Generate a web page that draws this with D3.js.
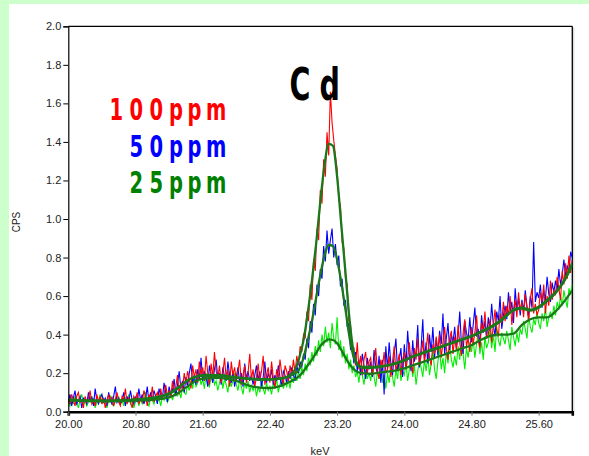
<!DOCTYPE html>
<html>
<head>
<meta charset="utf-8">
<script src="https://cdn.jsdelivr.net/npm/d3@7/dist/d3.min.js"></script>
<style>
body { margin: 0; background: #ccffcc; }
svg { display: block; }
.axis text { font-family: "Liberation Sans", Arial, sans-serif; font-size: 11px; fill: #222; }
.tag { font-family: "DejaVu Sans Condensed", "DejaVu Sans", sans-serif; font-weight: bold; }
</style>
</head>
<body>
<div id="chart"></div>
<script>
// spectra: one value per channel, starting at 20.00 keV, 0.02 keV per channel
var keVStart = 20.0, keVStep = 0.02;

var cps100 = [
  0.07,0.04,0.09,0.06,0.03,0.08,0.10,0.05,0.06,0.02,
  0.08,0.05,0.07,0.11,0.04,0.06,0.03,0.09,0.05,0.08,
  0.04,0.07,0.02,0.06,0.09,0.05,0.08,0.03,0.06,0.10,
  0.05,0.03,0.08,0.06,0.12,0.04,0.07,0.05,0.02,0.08,
  0.06,0.10,0.04,0.07,0.05,0.11,0.08,0.03,0.09,0.06,
  0.13,0.05,0.08,0.10,0.06,0.12,0.07,0.09,0.14,0.08,
  0.11,0.07,0.16,0.10,0.13,0.19,0.09,0.15,0.12,0.20,
  0.14,0.21,0.17,0.12,0.24,0.18,0.22,0.15,0.26,0.19,
  0.23,0.16,0.29,0.20,0.14,0.25,0.18,0.31,0.21,0.17,
  0.24,0.15,0.20,0.28,0.17,0.22,0.13,0.26,0.19,0.23,
  0.16,0.21,0.27,0.14,0.19,0.24,0.15,0.20,0.30,0.17,
  0.22,0.13,0.18,0.25,0.16,0.21,0.29,0.14,0.19,0.23,
  0.15,0.26,0.18,0.12,0.22,0.17,0.27,0.20,0.14,0.24,
  0.21,0.16,0.24,0.19,0.27,0.20,0.29,0.24,0.34,0.31,
  0.40,0.38,0.52,0.47,0.66,0.58,0.79,0.73,0.95,0.89,
  1.15,1.08,1.31,1.22,1.45,1.33,1.66,1.50,1.41,1.33,
  1.26,1.10,1.07,0.88,0.85,0.69,0.66,0.47,0.45,0.32,
  0.33,0.24,0.36,0.22,0.29,0.19,0.27,0.31,0.20,0.26,
  0.28,0.19,0.25,0.33,0.21,0.17,0.27,0.23,0.31,0.20,
  0.22,0.29,0.18,0.26,0.34,0.21,0.25,0.30,0.19,0.27,
  0.31,0.22,0.28,0.36,0.25,0.20,0.33,0.27,0.38,0.24,
  0.29,0.37,0.26,0.32,0.41,0.28,0.24,0.35,0.30,0.39,
  0.31,0.40,0.28,0.36,0.44,0.33,0.27,0.38,0.42,0.30,
  0.39,0.32,0.45,0.36,0.29,0.41,0.48,0.34,0.38,0.31,
  0.44,0.35,0.41,0.50,0.37,0.33,0.46,0.42,0.52,0.38,
  0.40,0.48,0.36,0.45,0.53,0.42,0.39,0.51,0.46,0.57,
  0.47,0.55,0.50,0.60,0.45,0.53,0.58,0.49,0.62,0.52,
  0.57,0.49,0.61,0.54,0.47,0.59,0.64,0.51,0.56,0.50,
  0.53,0.62,0.57,0.66,0.51,0.60,0.55,0.68,0.58,0.63,
  0.61,0.70,0.64,0.58,0.73,0.66,0.77,0.69,0.81,0.72,
  0.79
];

var cps50 = [
  0.05,0.09,0.03,0.07,0.11,0.04,0.06,0.08,0.02,0.07,
  0.06,0.04,0.10,0.05,0.08,0.03,0.12,0.06,0.04,0.07,
  0.09,0.05,0.07,0.03,0.10,0.06,0.04,0.08,0.13,0.05,
  0.07,0.04,0.06,0.10,0.03,0.08,0.05,0.11,0.06,0.04,
  0.08,0.05,0.12,0.06,0.09,0.04,0.07,0.13,0.05,0.10,
  0.06,0.11,0.08,0.04,0.12,0.09,0.07,0.15,0.10,0.05,
  0.13,0.09,0.11,0.17,0.08,0.14,0.21,0.12,0.16,0.10,
  0.18,0.13,0.20,0.25,0.15,0.19,0.14,0.22,0.17,0.28,
  0.16,0.21,0.18,0.13,0.24,0.19,0.15,0.22,0.27,0.17,
  0.20,0.14,0.23,0.18,0.16,0.26,0.19,0.15,0.21,0.13,
  0.18,0.23,0.15,0.20,0.13,0.25,0.17,0.21,0.16,0.19,
  0.14,0.19,0.24,0.16,0.21,0.13,0.18,0.26,0.15,0.20,
  0.17,0.22,0.14,0.19,0.16,0.24,0.18,0.13,0.21,0.19,
  0.15,0.21,0.17,0.23,0.19,0.16,0.24,0.20,0.26,0.23,
  0.30,0.27,0.38,0.33,0.47,0.41,0.56,0.50,0.66,0.60,
  0.74,0.69,0.86,0.78,0.94,0.82,0.89,0.95,0.80,0.87,
  0.76,0.81,0.65,0.69,0.55,0.58,0.44,0.46,0.32,0.34,
  0.25,0.31,0.21,0.27,0.19,0.30,0.24,0.17,0.28,0.22,
  0.26,0.18,0.32,0.23,0.20,0.29,0.15,0.27,0.09,0.34,
  0.22,0.36,0.25,0.19,0.30,0.38,0.21,0.27,0.33,0.18,
  0.35,0.24,0.42,0.29,0.21,0.37,0.26,0.31,0.45,0.23,
  0.33,0.48,0.27,0.36,0.25,0.40,0.31,0.44,0.28,0.38,
  0.29,0.42,0.35,0.51,0.30,0.38,0.46,0.32,0.40,0.36,
  0.44,0.33,0.39,0.52,0.35,0.30,0.47,0.41,0.37,0.49,
  0.36,0.45,0.54,0.39,0.43,0.34,0.50,0.41,0.47,0.38,
  0.49,0.42,0.56,0.45,0.39,0.52,0.47,0.60,0.43,0.50,
  0.55,0.48,0.62,0.52,0.57,0.46,0.64,0.53,0.59,0.50,
  0.58,0.52,0.63,0.55,0.49,0.60,0.54,0.88,0.57,0.62,
  0.59,0.66,0.54,0.63,0.58,0.70,0.61,0.57,0.67,0.62,
  0.68,0.63,0.74,0.66,0.71,0.79,0.70,0.76,0.72,0.83,
  0.80
];

var cps25 = [
  0.05,0.03,0.07,0.04,0.08,0.05,0.02,0.06,0.09,0.04,
  0.06,0.03,0.05,0.08,0.04,0.07,0.02,0.05,0.06,0.09,
  0.04,0.07,0.05,0.02,0.06,0.08,0.04,0.03,0.07,0.05,
  0.08,0.04,0.06,0.03,0.07,0.05,0.09,0.04,0.06,0.02,
  0.05,0.08,0.03,0.07,0.04,0.06,0.10,0.05,0.03,0.07,
  0.06,0.04,0.09,0.05,0.07,0.03,0.08,0.06,0.10,0.05,
  0.07,0.10,0.06,0.09,0.12,0.08,0.11,0.07,0.13,0.10,
  0.09,0.14,0.11,0.16,0.12,0.18,0.13,0.15,0.19,0.14,
  0.17,0.12,0.20,0.15,0.13,0.18,0.21,0.14,0.16,0.11,
  0.15,0.19,0.12,0.17,0.14,0.10,0.18,0.13,0.16,0.20,
  0.14,0.11,0.17,0.13,0.09,0.15,0.12,0.16,0.10,0.14,
  0.11,0.14,0.08,0.13,0.10,0.16,0.12,0.09,0.15,0.11,
  0.13,0.09,0.15,0.12,0.17,0.10,0.14,0.18,0.12,0.15,
  0.13,0.17,0.12,0.18,0.15,0.20,0.16,0.21,0.17,0.23,
  0.19,0.25,0.21,0.28,0.24,0.31,0.26,0.34,0.29,0.37,
  0.31,0.40,0.34,0.44,0.36,0.41,0.33,0.46,0.38,0.35,
  0.49,0.32,0.37,0.28,0.34,0.25,0.30,0.22,0.27,0.20,
  0.24,0.18,0.21,0.15,0.23,0.19,0.14,0.22,0.17,0.20,
  0.16,0.23,0.18,0.13,0.21,0.17,0.25,0.15,0.19,0.12,
  0.20,0.15,0.24,0.18,0.13,0.22,0.17,0.26,0.16,0.21,
  0.19,0.25,0.16,0.22,0.28,0.18,0.24,0.14,0.21,0.27,
  0.23,0.18,0.27,0.21,0.30,0.19,0.25,0.32,0.22,0.17,
  0.26,0.33,0.22,0.28,0.20,0.31,0.25,0.35,0.27,0.23,
  0.29,0.24,0.34,0.27,0.37,0.30,0.22,0.33,0.28,0.36,
  0.31,0.38,0.28,0.35,0.42,0.30,0.36,0.27,0.39,0.33,
  0.36,0.43,0.33,0.40,0.31,0.44,0.37,0.34,0.41,0.38,
  0.35,0.42,0.37,0.32,0.44,0.39,0.34,0.41,0.36,0.43,
  0.40,0.47,0.43,0.38,0.50,0.44,0.41,0.48,0.45,0.52,
  0.46,0.43,0.51,0.47,0.54,0.44,0.49,0.52,0.48,0.55,
  0.50,0.57,0.53,0.60,0.55,0.63,0.58,0.54,0.64,0.61,
  0.66
];

// fitted curves (smooth), sampled at these energies
var fitKeV = [
  20.0,20.2,20.4,20.6,20.8,21.0,21.1,21.2,21.3,21.4,21.5,21.6,21.8,22.0,22.2,22.4,
  22.5,22.6,22.7,22.75,22.8,22.85,22.9,22.95,23.0,23.05,23.1,23.15,23.2,23.25,23.3,
  23.35,23.4,23.45,23.5,23.6,23.7,23.8,23.9,24.0,24.1,24.2,24.3,24.4,24.5,24.6,24.7,
  24.8,24.9,25.0,25.1,25.2,25.3,25.4,25.5,25.6,25.7,25.8,25.9,26.0
];
var fit100 = [
  0.062,0.058,0.056,0.057,0.062,0.070,0.078,0.092,0.120,0.155,0.180,0.190,0.190,0.178,0.170,0.168,
  0.172,0.180,0.220,0.280,0.370,0.510,0.680,0.870,1.090,1.280,1.390,1.380,1.220,0.970,0.720,
  0.470,0.300,0.245,0.232,0.232,0.235,0.240,0.250,0.265,0.285,0.300,0.315,0.330,0.345,0.360,0.375,
  0.390,0.410,0.430,0.455,0.490,0.530,0.540,0.530,0.545,0.580,0.620,0.680,0.770
];
var fit50 = [
  0.060,0.057,0.057,0.058,0.063,0.072,0.080,0.095,0.123,0.157,0.178,0.186,0.186,0.175,0.168,0.166,
  0.170,0.178,0.200,0.220,0.280,0.370,0.470,0.590,0.710,0.810,0.865,0.860,0.790,0.670,0.530,
  0.380,0.280,0.240,0.228,0.228,0.232,0.240,0.252,0.268,0.287,0.303,0.318,0.333,0.348,0.363,0.378,
  0.394,0.413,0.435,0.460,0.495,0.525,0.535,0.525,0.540,0.575,0.615,0.675,0.760
];
var fit25 = [
  0.060,0.056,0.054,0.055,0.058,0.062,0.066,0.075,0.095,0.125,0.155,0.172,0.176,0.160,0.130,0.123,
  0.130,0.148,0.170,0.185,0.210,0.240,0.270,0.305,0.340,0.363,0.375,0.372,0.355,0.320,0.280,
  0.245,0.220,0.205,0.200,0.197,0.203,0.208,0.215,0.225,0.240,0.255,0.270,0.285,0.300,0.315,0.330,
  0.345,0.370,0.390,0.400,0.400,0.405,0.450,0.480,0.490,0.490,0.520,0.570,0.630
];

var yTicks = [0.0,0.2,0.4,0.6,0.8,1.0,1.2,1.4,1.6,1.8,2.0];
var xTicks = [20.0,20.8,21.6,22.4,23.2,24.0,24.8,25.6];
var seriesNames = ["100ppm","50ppm","25ppm"];
var elementName = "Cd";

var width = 589, height = 456;

var svg = d3.select("#chart").append("svg")
    .attr("width", width)
    .attr("height", height);

// white panel on the green page
svg.append("rect")
    .attr("x", 9).attr("y", 4)
    .attr("width", width - 9).attr("height", height - 4)
    .attr("fill", "white");

var x = d3.scaleLinear().domain([20, 26]).range([68.3, 572.3]);
var y = d3.scaleLinear().domain([0, 2]).range([411.7, 26.3]);

svg.append("defs").append("clipPath").attr("id", "plotclip")
  .append("rect")
    .attr("x", x(20)).attr("y", y(2))
    .attr("width", x(26) - x(20)).attr("height", y(0) - y(2));

// frame: top and right lines, with a faint shadow on the right
svg.append("line")
    .attr("x1", x(20)).attr("x2", x(26)).attr("y1", y(2)).attr("y2", y(2))
    .attr("stroke", "black").attr("stroke-width", 1.2);
svg.append("line")
    .attr("x1", x(26) + 1.5).attr("x2", x(26) + 1.5).attr("y1", y(2) + 1).attr("y2", y(0))
    .attr("stroke", "#d0d0d0").attr("stroke-width", 1);
svg.append("line")
    .attr("x1", x(26)).attr("x2", x(26)).attr("y1", y(2)).attr("y2", y(0))
    .attr("stroke", "black").attr("stroke-width", 1.3);

var plot = svg.append("g").attr("clip-path", "url(#plotclip)");

var noisy = d3.line()
    .x(function(d, i) { return x(keVStart + i * keVStep); })
    .y(function(d) { return y(d); });

var smooth = d3.line()
    .x(function(d, i) { return x(fitKeV[i]); })
    .y(function(d) { return y(d); })
    .curve(d3.curveMonotoneX);

// raw spectra
plot.append("path").datum(cps25).attr("d", noisy)
    .attr("fill", "none").attr("stroke", "#00ee00").attr("stroke-width", 1.1);
plot.append("path").datum(cps50).attr("d", noisy)
    .attr("fill", "none").attr("stroke", "#0000ff").attr("stroke-width", 1.1);
plot.append("path").datum(cps100).attr("d", noisy)
    .attr("fill", "none").attr("stroke", "#ff0000").attr("stroke-width", 1.1);

// fits on top
[fit100, fit50, fit25].forEach(function(f) {
    plot.append("path").datum(f).attr("d", smooth)
        .attr("fill", "none").attr("stroke", "#1a781a").attr("stroke-width", 2.3);
});

// axes
var yAxis = svg.append("g").attr("class", "axis")
    .attr("transform", "translate(" + x(20) + ",0)")
    .call(d3.axisLeft(y).tickValues(yTicks).tickFormat(d3.format(".1f")).tickSize(5).tickPadding(2));
yAxis.select(".domain").attr("stroke-width", 1.2);

var xAxis = svg.append("g").attr("class", "axis")
    .attr("transform", "translate(0," + y(0) + ")")
    .call(d3.axisBottom(x).tickValues(xTicks).tickFormat(d3.format(".2f")).tickSize(4).tickPadding(5));
xAxis.select(".domain").attr("stroke-width", 2.6);
xAxis.selectAll(".tick line").attr("stroke", "#777");

// axis titles
svg.append("text")
    .text("keV")
    .attr("x", 320).attr("y", 455)
    .attr("text-anchor", "middle")
    .attr("font-family", "Liberation Sans, Arial, sans-serif")
    .attr("font-size", 11).attr("fill", "#222");

svg.append("text")
    .text("CPS")
    .attr("transform", "translate(20,222) rotate(-90)")
    .attr("text-anchor", "middle")
    .attr("font-family", "Liberation Sans, Arial, sans-serif")
    .attr("font-size", 10).attr("fill", "#222");

// spaced, narrowed lettering: each glyph placed on its own x, then squeezed
function spacedText(str, xs, baseline, size, squeeze, color) {
    svg.append("text")
        .attr("class", "tag")
        .attr("transform", "scale(" + squeeze + ",1)")
        .attr("x", xs.map(function(v) { return v / squeeze; }).join(" "))
        .attr("y", baseline)
        .attr("font-size", size)
        .attr("fill", color)
        .text(str);
}

spacedText(elementName, [289.5, 319.5], 100, 44, 0.72, "black");

var tagColors = ["#ff0000", "#0000ff", "#008000"];
var tagBase = [120, 157, 193];
var slots = [109.5, 129.5, 149.5, 169, 187.5, 206];
seriesNames.forEach(function(name, i) {
    spacedText(name, slots.slice(slots.length - name.length), tagBase[i], 31, 0.7, tagColors[i]);
});
</script>
</body>
</html>
